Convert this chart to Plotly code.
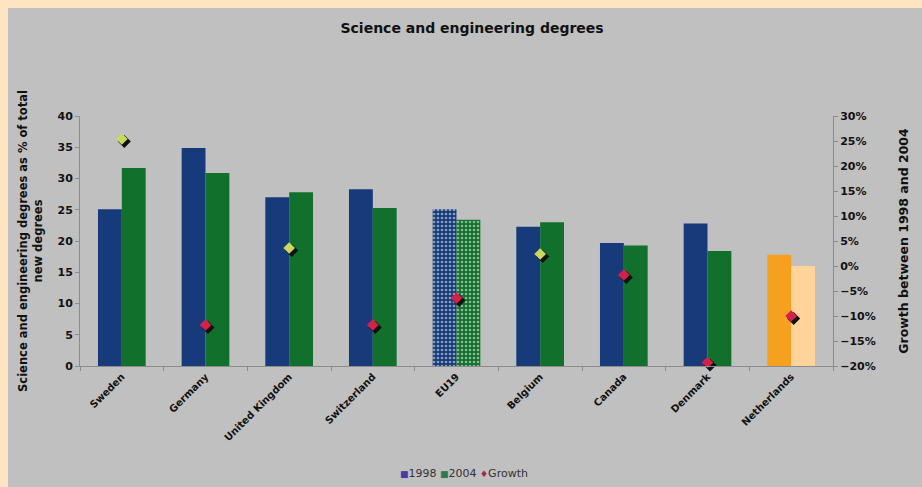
import plotly.graph_objects as go

countries = ["Sweden", "Germany", "United Kingdom", "Switzerland", "EU19",
             "Belgium", "Canada", "Denmark", "Netherlands"]
share_1998 = [25.1, 34.9, 27.0, 28.3, 25.1, 22.3, 19.7, 22.8, 17.8]
share_2004 = [31.7, 30.9, 27.8, 25.3, 23.4, 23.0, 19.3, 18.4, 16.0]
growth_pct = [25.4, -11.8, 3.6, -11.8, -6.4, 2.4, -1.8, -19.3, -10.0]

col_1998 = ["#173A7A"] * 8 + ["#F5A01E"]
col_2004 = ["#12702D"] * 8 + ["#FFD39A"]
pat = ["", "", "", "", ".", "", "", "", ""]
growth_cols = ["#C9D85E" if g >= 0 else "#D3214B" for g in growth_pct]

FONT = "DejaVu Sans"
W, H = 922, 487
L, R, T, B = 80, 89, 116, 121
PW, PH = W - L - R, H - T - B

fig = go.Figure()
fig.add_trace(go.Bar(
    name="1998", x=countries, y=share_1998, showlegend=False,
    marker=dict(color=col_1998, line=dict(width=0),
                pattern=dict(shape=pat, fgcolor="#7d92c8", size=4, solidity=0.35)),
    xaxis="x", yaxis="y"))
fig.add_trace(go.Bar(
    name="2004", x=countries, y=share_2004, showlegend=False,
    marker=dict(color=col_2004, line=dict(width=0),
                pattern=dict(shape=pat, fgcolor="#6fbf7f", size=4, solidity=0.35)),
    xaxis="x", yaxis="y"))
# growth on the right axis (transparent anchor for the visible right axis)
fig.add_trace(go.Scatter(
    x=countries, y=growth_pct, mode="markers", showlegend=False,
    marker=dict(symbol="diamond", size=10, color="rgba(0,0,0,0)"),
    xaxis="x", yaxis="y2", cliponaxis=False, hoverinfo="skip"))
# shadow of growth diamonds (same data, axes shifted by a few pixels)
fig.add_trace(go.Scatter(
    x=countries, y=growth_pct, mode="markers", showlegend=False,
    marker=dict(symbol="diamond", size=10, color="#111111", line=dict(width=0)),
    xaxis="x3", yaxis="y3", cliponaxis=False, hoverinfo="skip"))
fig.add_trace(go.Scatter(
    name="Growth", x=countries, y=growth_pct, mode="markers", showlegend=False,
    marker=dict(symbol="diamond", size=9, color=growth_cols, line=dict(width=0)),
    xaxis="x4", yaxis="y4", cliponaxis=False))

dx = 2.5 / (PW / 9)
dy = 2.5 / (PH / 50)

bold11 = dict(size=11, family=FONT, weight="bold", color="#111111")

fig.update_layout(
    width=W, height=H,
    margin=dict(l=L, r=R, t=T, b=B, autoexpand=False),
    paper_bgcolor="#FFE4C2",
    plot_bgcolor="#C0C0C0",
    font=dict(family=FONT, color="#111111"),
    barmode="group", bargap=0.43, bargroupgap=0,
    showlegend=False,
    title=dict(text="<b>Science and engineering degrees</b>", x=0.512, xanchor="center",
               y=1 - 28 / H, yanchor="middle", font=dict(size=14, family=FONT)),
    xaxis=dict(tickangle=-45, tickfont=dict(size=10, family=FONT, weight="bold"),
               showline=True, linecolor="#8c8c8c", linewidth=1, automargin=False,
               ticks="outside", tickson="boundaries", ticklen=4, tickcolor="#8c8c8c",
               showgrid=False, range=[-0.5, 8.5]),
    yaxis=dict(range=[0, 40], dtick=5, showgrid=False, zeroline=False, automargin=False,
               showline=True, linecolor="#8c8c8c", ticks="outside", ticklen=4,
               tickcolor="#8c8c8c", tickfont=bold11,
               title=dict(text="<b>Science and engineering degrees as % of total<br>new degrees</b>",
                          font=dict(size=11.5, family=FONT), standoff=12)),
    yaxis2=dict(range=[-20, 30], dtick=5, overlaying="y", side="right", automargin=False,
                ticksuffix="%", showgrid=False, zeroline=False,
                showline=True, linecolor="#8c8c8c", ticks="outside", ticklen=4,
                tickcolor="#8c8c8c", tickfont=bold11,
                title=dict(text="<b>Growth between 1998 and 2004</b>",
                           font=dict(size=12.5, family=FONT), standoff=24)),
    xaxis3=dict(overlaying="x", range=[-0.5 - dx, 8.5 - dx], visible=False),
    yaxis3=dict(overlaying="y", range=[-20 + dy, 30 + dy], visible=False),
    xaxis4=dict(overlaying="x", range=[-0.5, 8.5], visible=False),
    yaxis4=dict(overlaying="y", range=[-20, 30], visible=False),
    annotations=[dict(
        xref="paper", yref="paper", x=0.51, y=-(473 - (T + PH)) / PH,
        xanchor="center", yanchor="middle", showarrow=False,
        font=dict(size=11, family=FONT, color="#333333"),
        text=("<span style='color:#4a3ca8;font-size:9px'>■</span>1998 "
              "<span style='color:#2e7a55;font-size:9px'>■</span>2004 "
              "<span style='color:#a02850;font-size:9px'>♦</span>Growth"))],
    shapes=[dict(type="rect", xref="paper", yref="paper", layer="below",
                 x0=(8 - L) / PW, x1=(W - L) / PW + 0.05,
                 y0=-(B + 10) / PH, y1=(H - 8 - B) / PH,
                 fillcolor="#C0C0C0", line=dict(width=0))],
)

fig.write_html("out.html")
